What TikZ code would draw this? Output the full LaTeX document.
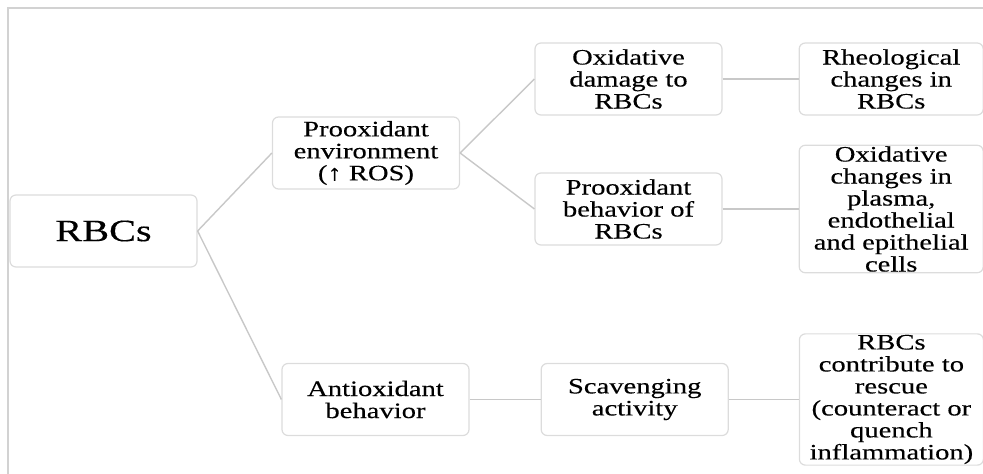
\documentclass[tikz,border=0pt]{standalone}
\usepackage{fontspec}
\setmainfont[FakeStretch=1.3,FakeBold=0.3]{Liberation Serif}
\usetikzlibrary{positioning}
\definecolor{boxline}{HTML}{DCDCDC}
\definecolor{linkline}{HTML}{C8C8C8}
\definecolor{frameline}{HTML}{D2D2D2}

\begin{document}
\begin{tikzpicture}[x=1pt,y=1pt,box/.style={draw=boxline, line width=1.2pt, rounded corners=6pt, align=center, minimum width=187pt, minimum height=72pt, inner sep=1pt, font=\fontsize{22}{22}\selectfont},link/.style={draw=linkline, line width=1.4pt}]
\useasboundingbox (0,0) rectangle (983,474);
\draw[frameline, line width=1.2pt] (8,0) -- (8,466) -- (983,466);
% root and the two branches
\node[box, font=\fontsize{31}{31}\selectfont] (rbc) at (103.5,243) {RBCs};
\node[box] (env) at (366,321) {Prooxidant\\environment\\(↑ ROS)};
\node[box] (anti) at (375.5,74.5) {Antioxidant\\behavior};
% prooxidant side
\node[box] (damage) at (628.5,395) {Oxidative\\damage to\\RBCs};
\node[box] (behav) at (628.5,265) {Prooxidant\\behavior of\\RBCs};
\node[box, right=76pt of damage, minimum width=184pt] (rheo) {Rheological\\changes in\\RBCs};
\node[box, right=76pt of behav, minimum width=184pt] (ochg) {Oxidative\\changes in\\plasma,\\endothelial\\and epithelial\\cells};
% antioxidant side
\node[box, right=71pt of anti] (scav) {Scavenging\\activity};
\node[box, right=70pt of scav, minimum width=184pt] (rescue) {RBCs\\contribute to\\rescue\\(counteract or\\quench\\inflammation)};
\draw[link] (rbc.east) -- (env.west); \draw[link] (rbc.east) -- (anti.west);
\draw[link] (env.east) -- (damage.west); \draw[link] (env.east) -- (behav.west);
\draw[link] (damage) -- (rheo); \draw[link] (behav) -- (ochg);
\draw[link] (anti) -- (scav); \draw[link] (scav) -- (rescue);
\end{tikzpicture}
\end{document}
